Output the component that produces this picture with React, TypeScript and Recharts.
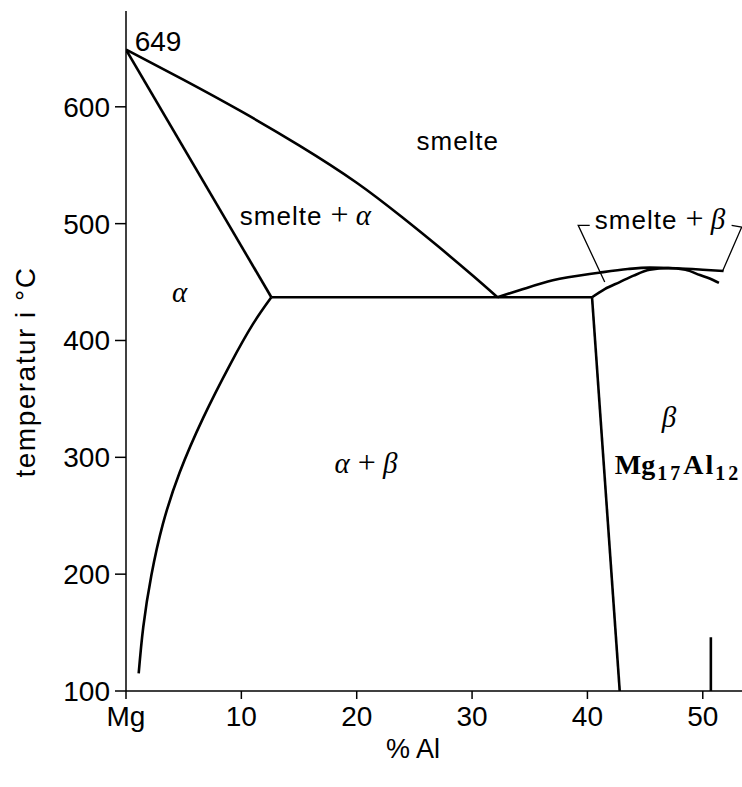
import React from "react";
import { ComposedChart, Line, Scatter, XAxis, YAxis } from "recharts";

// axis ticks
const X_TICKS = [0, 10, 20, 30, 40, 50];
const Y_TICKS = [100, 200, 300, 400, 500, 600];

// phase boundaries, x = % Al, t = temperature in °C
const liquidusAlpha = [
  { x: 0, t: 649 },
  { x: 5, t: 623 },
  { x: 10, t: 596 },
  { x: 15, t: 567 },
  { x: 20, t: 535 },
  { x: 24, t: 505 },
  { x: 27, t: 481 },
  { x: 30, t: 456 },
  { x: 32.2, t: 437 },
];

const solidusAlpha = [
  { x: 0, t: 649 },
  { x: 12.6, t: 437 },
];

const solvusAlpha = [
  { x: 1.1, t: 115 },
  { x: 1.5, t: 155 },
  { x: 2.2, t: 199 },
  { x: 3.2, t: 243 },
  { x: 4.65, t: 287 },
  { x: 6.7, t: 334 },
  { x: 9.0, t: 379 },
  { x: 11.0, t: 414 },
  { x: 12.6, t: 437 },
];

const eutectic = [
  { x: 12.6, t: 437 },
  { x: 40.4, t: 437 },
];

const solvusBeta = [
  { x: 40.4, t: 437 },
  { x: 42.8, t: 100 },
];

const liquidusBeta = [
  { x: 32.2, t: 437 },
  { x: 34.1, t: 443 },
  { x: 37.0, t: 451.5 },
  { x: 41.0, t: 458 },
  { x: 43.5, t: 461.2 },
  { x: 45.4, t: 462.4 },
  { x: 47.7, t: 461.8 },
  { x: 50.0, t: 460.6 },
  { x: 51.8, t: 459.5 },
];

const solidusBeta = [
  { x: 40.4, t: 437 },
  { x: 41.5, t: 444 },
  { x: 42.8, t: 450 },
  { x: 44.0, t: 455.5 },
  { x: 45.4, t: 460.5 },
  { x: 47.0, t: 462 },
  { x: 48.5, t: 460.5 },
  { x: 49.75, t: 456 },
  { x: 50.6, t: 453 },
  { x: 51.4, t: 449.3 },
];

const gammaEdge = [
  { x: 50.7, t: 100 },
  { x: 50.7, t: 146 },
];

// leader lines for "smelte + β"
const leaderLeft = [
  { x: 40.2, t: 498.6 },
  { x: 39.2, t: 498.6 },
  { x: 41.5, t: 450 },
];
const leaderRight = [
  { x: 52.5, t: 498.6 },
  { x: 53.37, t: 497 },
  { x: 51.7, t: 459 },
];

// region labels, anchored in data units
const LABELS = [
  { id: "melt-point", x: 0.75, t: 648, text: "649" },
  { id: "melt", x: 28.76, t: 563, text: "smelte" },
  { id: "melt-alpha", x: 9.87, t: 498.6, text: "smelte + α" },
  { id: "alpha", x: 4.65, t: 433, text: "α" },
  { id: "alpha-beta", x: 20.8, t: 287, text: "α + β" },
  { id: "beta", x: 47.07, t: 326, text: "β" },
  { id: "formula", x: 42.37, t: 286, text: "Mg17Al12" },
  { id: "melt-beta", x: 40.64, t: 495, text: "smelte + β" },
];

const SANS = '"Liberation Sans", Arial, Helvetica, sans-serif';
const SERIF = '"Liberation Serif", "Times New Roman", serif';

function renderMixed(text: string) {
  // sans words, serif "+", italic serif greek letters
  return text.split(" ").map((part, i) => {
    const sep = i > 0 ? " " : "";
    if (part === "+") {
      return (
        <tspan key={i} fontFamily={SERIF} fontSize={32}>
          {sep + "+"}
        </tspan>
      );
    }
    if (part === "α" || part === "β") {
      return (
        <tspan key={i} fontFamily={SERIF} fontStyle="italic" fontSize={29}>
          {sep + part}
        </tspan>
      );
    }
    return (
      <tspan key={i} fontFamily={SANS} fontSize={26} letterSpacing={1}>
        {sep + part}
      </tspan>
    );
  });
}

function PhaseText(props: any) {
  const { cx, cy, payload } = props;
  if (cx == null || cy == null) return null;
  const item = payload as (typeof LABELS)[number];

  if (item.id === "formula") {
    return (
      <text x={cx} y={cy} fontFamily={SERIF} fontWeight="bold" fontSize={28} fill="#000">
        <tspan>Mg</tspan>
        <tspan dx={2} dy={6} fontSize={20} letterSpacing={3}>
          17
        </tspan>
        <tspan dy={-6} letterSpacing={2}>
          Al
        </tspan>
        <tspan dy={6} fontSize={20} letterSpacing={3}>
          12
        </tspan>
      </text>
    );
  }

  if (item.id === "melt-point") {
    return (
      <text x={cx} y={cy} fontFamily={SANS} fontSize={28} fill="#000">
        {item.text}
      </text>
    );
  }

  const anchor = item.id === "melt-alpha" || item.id === "melt-beta" ? "start" : "middle";
  return (
    <text x={cx} y={cy} textAnchor={anchor} fill="#000">
      {renderMixed(item.text)}
    </text>
  );
}

const curveProps = {
  dataKey: "t",
  stroke: "#000",
  strokeWidth: 2.6,
  dot: false,
  activeDot: false,
  isAnimationActive: false,
  legendType: "none" as const,
};

export default function App() {
  return (
    <div style={{ position: "absolute", left: 0, top: 0, background: "#fff" }}>
      <ComposedChart width={742} height={787} margin={{ top: 11, right: 0, bottom: 0, left: 0 }}>
        <XAxis
          type="number"
          dataKey="x"
          domain={[0, 53.4]}
          ticks={X_TICKS}
          allowDataOverflow
          height={96}
          tickSize={8}
          tickMargin={7}
          tickFormatter={(v: number) => (v === 0 ? "Mg" : String(v))}
          tick={{ fill: "#000", fontSize: 28, fontFamily: SANS }}
          axisLine={{ stroke: "#000", strokeWidth: 1.5 }}
          tickLine={{ stroke: "#000", strokeWidth: 1.5 }}
          label={(p: any) => {
            const vb = p.viewBox;
            return (
              <text x={vb.x + 287} y={vb.y + 67} textAnchor="middle" fontFamily={SANS} fontSize={27} fill="#000">
                % Al
              </text>
            );
          }}
        />
        <YAxis
          type="number"
          dataKey="t"
          domain={[100, 682]}
          ticks={Y_TICKS}
          allowDataOverflow
          width={126}
          tickSize={11}
          tickMargin={5}
          tick={{ fill: "#000", fontSize: 28, fontFamily: SANS }}
          axisLine={{ stroke: "#000", strokeWidth: 1.5 }}
          tickLine={{ stroke: "#000", strokeWidth: 1.5 }}
          label={(p: any) => {
            const vb = p.viewBox;
            const lx = vb.x + 35;
            const ly = vb.y + 361;
            return (
              <text
                x={lx}
                y={ly}
                transform={`rotate(-90, ${lx}, ${ly})`}
                textAnchor="middle"
                fontFamily={SANS}
                fontSize={28}
                letterSpacing={1.5}
                fill="#000"
              >
                temperatur i °C
              </text>
            );
          }}
        />
        <Line {...curveProps} data={liquidusAlpha} type="natural" />
        <Line {...curveProps} data={solidusAlpha} type="linear" />
        <Line {...curveProps} data={solvusAlpha} type="natural" />
        <Line {...curveProps} data={eutectic} type="linear" />
        <Line {...curveProps} data={solvusBeta} type="linear" />
        <Line {...curveProps} data={liquidusBeta} type="monotone" />
        <Line {...curveProps} data={solidusBeta} type="monotone" />
        <Line {...curveProps} data={gammaEdge} type="linear" />
        <Line {...curveProps} data={leaderLeft} type="linear" strokeWidth={1.3} />
        <Line {...curveProps} data={leaderRight} type="linear" strokeWidth={1.3} />
        <Scatter
          data={LABELS}
          dataKey="t"
          isAnimationActive={false}
          shape={(p: any) => <PhaseText {...p} />}
        />
      </ComposedChart>
    </div>
  );
}
